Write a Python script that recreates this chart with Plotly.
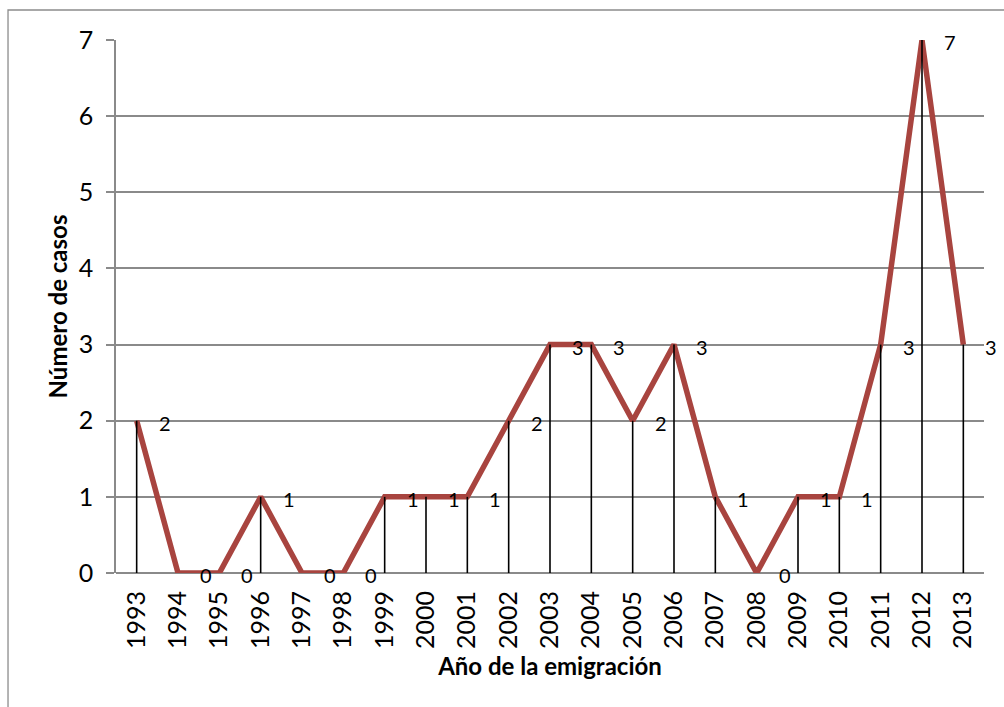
import plotly.graph_objects as go

# Casos por año de emigración
years = ["1993", "1994", "1995", "1996", "1997", "1998", "1999", "2000", "2001", "2002", "2003",
         "2004", "2005", "2006", "2007", "2008", "2009", "2010", "2011", "2012", "2013"]
cases = [2, 0, 0, 1, 0, 0, 1, 1, 1, 2, 3, 3, 2, 3, 1, 0, 1, 1, 3, 7, 3]
y_ticks = [0, 1, 2, 3, 4, 5, 6, 7]

FONT = "Lato"
LINE_RED = "#A8443F"
GRID = "#8A8A8A"

fig = go.Figure()

# serie principal
fig.add_trace(go.Scatter(
    x=years, y=cases, mode="lines",
    line=dict(color=LINE_RED, width=5.5),
    hoverinfo="skip", showlegend=False,
))

# líneas de caída desde cada punto hasta el eje
drop_x, drop_y = [], []
for yr, v in zip(years, cases):
    drop_x += [yr, yr, None]
    drop_y += [0, v, None]
fig.add_trace(go.Scatter(
    x=drop_x, y=drop_y, mode="lines",
    line=dict(color="black", width=1.6),
    hoverinfo="skip", showlegend=False,
))

# etiquetas de valor (posición de categoría por índice)
for i, v in enumerate(cases):
    fig.add_annotation(
        x=i, y=v, xref="x", yref="y", text=str(v), showarrow=False,
        xshift=28, yshift=-2,
        font=dict(family=FONT, size=20, color="black"),
    )

# marco exterior del gráfico
fig.add_shape(
    type="rect", xref="paper", yref="paper",
    x0=-0.1244, x1=1.2, y0=-0.5, y1=1.0563,
    line=dict(color="#8C8C8C", width=1.3), layer="below",
)

fig.update_layout(
    width=1004, height=707,
    margin=dict(l=116, r=20, t=40, b=134),
    paper_bgcolor="white", plot_bgcolor="white",
    font=dict(family=FONT, color="black"),
    xaxis=dict(
        type="category", categoryorder="array", categoryarray=years,
        tickangle=-90, tickfont=dict(family=FONT, size=25, color="black"),
        showgrid=False, showline=False, ticks="", zeroline=False,
        ticklabelstandoff=12,
        title=dict(text="<b>Año de la emigración</b>",
                   font=dict(family=FONT, size=24, color="black"), standoff=10),
        range=[-0.5, len(years) - 0.5],
    ),
    yaxis=dict(
        range=[0, 7], tickvals=y_ticks,
        tickfont=dict(family=FONT, size=25, color="black"),
        showgrid=True, gridcolor=GRID, gridwidth=1.5,
        showline=True, linecolor=GRID, linewidth=1.5,
        ticks="outside", ticklen=8, tickcolor=GRID, tickwidth=1.5,
        ticklabelstandoff=8,
        zeroline=True, zerolinecolor=GRID, zerolinewidth=1.5,
        title=dict(text="<b>Número de casos</b>",
                   font=dict(family=FONT, size=24, color="black"), standoff=4),
    ),
)

fig.write_html("out.html")
